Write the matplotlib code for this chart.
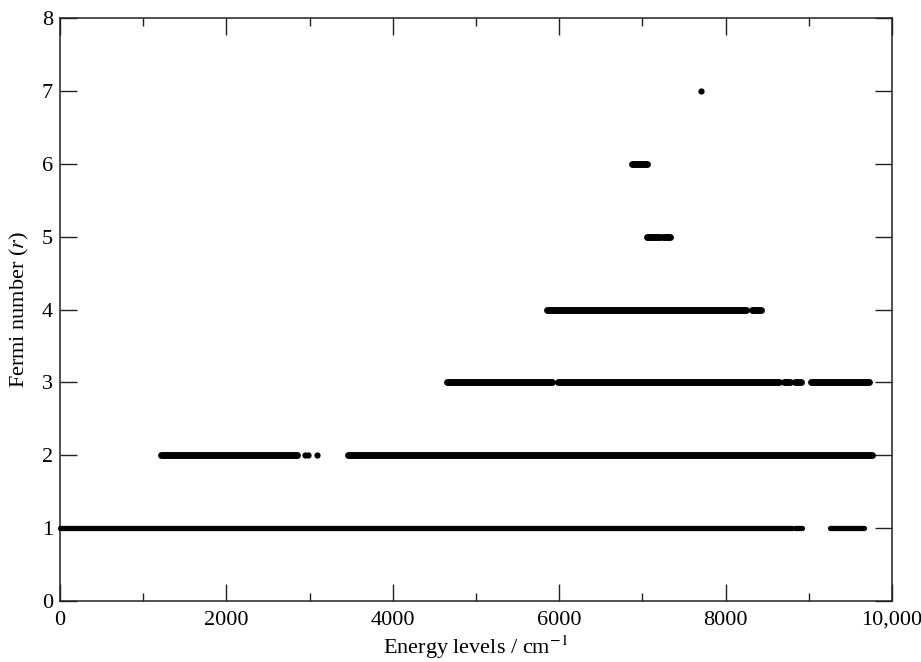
import matplotlib
matplotlib.use("Agg")
import matplotlib.pyplot as plt
from matplotlib.ticker import MultipleLocator, FuncFormatter

# Fermi numbers and the energy ranges (cm^-1) where levels are densely packed
fermi_numbers = [1, 2, 3, 4, 5, 6, 7]
level_ranges = {
    1: [(0, 8800), (8830, 8920), (9260, 9660)],
    2: [(1210, 2850), (3465, 9760)],
    3: [(4650, 5910), (5985, 8640), (8700, 8780), (8840, 8910), (9030, 9720)],
    4: [(5850, 8250), (8320, 8430)],
    5: [(7050, 7215), (7245, 7335)],
    6: [(6870, 7060)],
    7: [],
}
# isolated energy levels
isolated_x = [2945, 2985, 3090, 7700]
isolated_r = [2, 2, 2, 7]

x_ticks = [0, 2000, 4000, 6000, 8000, 10000]
y_ticks = [0, 1, 2, 3, 4, 5, 6, 7, 8]

plt.rcParams['font.family'] = ['Liberation Serif', 'DejaVu Serif']
plt.rcParams['mathtext.fontset'] = 'stix'

fig = plt.figure(figsize=(9.21, 6.62), dpi=100)
ax = fig.add_axes([0.0651, 0.0921, 0.9034, 0.8807])

for r in fermi_numbers:
    lw = 3.8 if r == 1 else 5.0
    for (s, e) in level_ranges[r]:
        ax.plot([s, e], [r, r], color='black', lw=lw, solid_capstyle='round',
                clip_on=False, zorder=3)
ax.plot(isolated_x, isolated_r, 'o', color='black', markersize=4.5,
        markeredgewidth=0, clip_on=False, zorder=3)

ax.set_xlim(0, 10000)
ax.set_ylim(0, 8)
ax.set_xticks(x_ticks)
ax.xaxis.set_minor_locator(MultipleLocator(1000))
ax.set_yticks(y_ticks)
ax.xaxis.set_major_formatter(FuncFormatter(lambda v, p: f"{v:,.0f}" if v >= 10000 else f"{v:.0f}"))

ax.tick_params(axis='both', which='both', direction='in', top=True, right=True,
               labelsize=16, width=1.0, color='#222222')
ax.tick_params(axis='both', which='major', length=12)
ax.tick_params(axis='x', which='minor', length=6)
ax.tick_params(axis='x', which='major', pad=7)
ax.tick_params(axis='y', which='major', pad=5)

for sp in ax.spines.values():
    sp.set_linewidth(1.1)
    sp.set_color('#222222')

ax.set_xlabel("Energy levels / cm$^{\\mathrm{-1}}$", fontsize=16, labelpad=3)
ax.set_ylabel("Fermi number ($\\mathit{r}$)", fontsize=16, labelpad=8)

fig.savefig("out.png", dpi=100)
